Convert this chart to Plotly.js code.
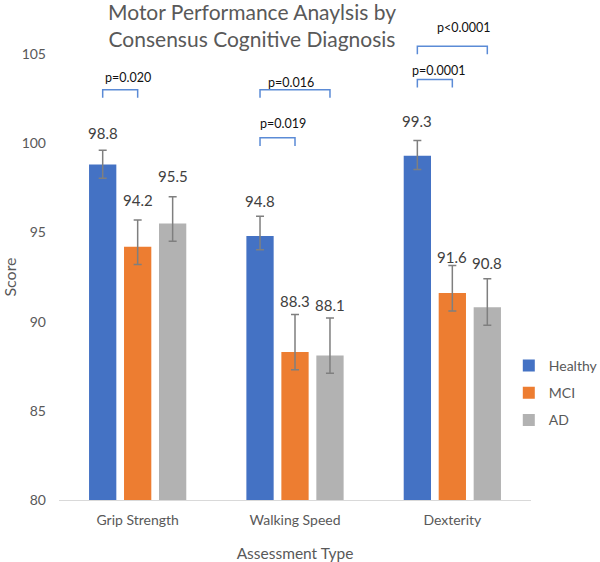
<!DOCTYPE html>
<html>
<head>
<meta charset="utf-8">
<script src="https://cdn.plot.ly/plotly-3.0.1.min.js"></script>
<style>html,body{margin:0;padding:0;background:#fff;}#chart{width:600px;height:562px;}</style>
</head>
<body>
<div id="chart"></div>
<script>
// ---- data ----
const categories = ['Grip Strength', 'Walking Speed', 'Dexterity'];
const seriesNames = ['Healthy', 'MCI', 'AD'];
const healthy = [98.8, 94.8, 99.3];
const mci = [94.2, 88.3, 91.6];
const ad = [95.5, 88.1, 90.8];
const healthyErrPlus = [0.8, 1.1, 0.85];
const healthyErrMinus = [0.77, 0.77, 0.77];
const mciErrPlus = [1.5, 2.1, 1.55];
const mciErrMinus = [1.0, 1.0, 1.0];
const adErrPlus = [1.5, 2.1, 1.6];
const adErrMinus = [1.0, 1.0, 1.0];
// significance comparisons (Healthy vs other group)
const compCategory = [0, 1, 1, 2, 2];
const compFrom = [0, 0, 0, 0, 0];
const compTo = [1, 2, 1, 2, 1];
const compLabels = ['p=0.020', 'p=0.016', 'p=0.019', 'p<0.0001', 'p=0.0001'];
const compLevel = [103.0, 103.0, 100.3, 105.44, 103.57];
const compTextLevel = [103.7, 103.42, 101.09, 106.5, 104.08];
const yTicks = [80, 85, 90, 95, 100, 105];

// ---- style ----
const colors = ['#4472C4', '#ED7D31', '#B2B2B2'];
const FONT = 'Lato, "Open Sans", sans-serif';
const TXT = '#595959';
const bargap = 0.333;
const slot = (1 - bargap) / 3;
const labelShift = [[17, 20, 21], [15, 13, 13], [20, 8, 16]];
const compTextDx = [8, -4, 5, 11, 4];

const values = [healthy, mci, ad];
const errP = [healthyErrPlus, mciErrPlus, adErrPlus];
const errM = [healthyErrMinus, mciErrMinus, adErrMinus];

const traces = values.map((v, i) => ({
  type: 'bar',
  name: seriesNames[i],
  x: categories,
  y: v,
  legendgroup: seriesNames[i],
  marker: {color: colors[i]},
  error_y: {type: 'data', symmetric: false, array: errP[i], arrayminus: errM[i],
            color: '#7F7F7F', thickness: 1.5, width: 4},
  hoverinfo: 'skip'
}));

const annotations = [];
values.forEach((v, si) => {
  v.forEach((val, ci) => {
    annotations.push({
      xref: 'x', yref: 'y',
      x: ci + (si - 1) * slot,
      y: val + errP[si][ci],
      yanchor: 'middle', xanchor: 'center',
      yshift: labelShift[ci][si],
      text: val.toFixed(1), showarrow: false,
      font: {family: FONT, size: 15, color: '#404040'}
    });
  });
});

const xPaper = c => (c + 0.5) / categories.length;
const yPaper = v => (v - yTicks[0]) / (yTicks[yTicks.length - 1] - yTicks[0]);
const shapes = [];
compCategory.forEach((c, k) => {
  const x0 = xPaper(c + (compFrom[k] - 1) * slot);
  const x1 = xPaper(c + (compTo[k] - 1) * slot);
  const yt = yPaper(compLevel[k]);
  const yb = yPaper(compLevel[k] - 0.45);
  shapes.push({type: 'path', xref: 'paper', yref: 'paper',
    path: `M${x0},${yb} L${x0},${yt} L${x1},${yt} L${x1},${yb}`,
    line: {color: '#5B8BD6', width: 1.5}});
  annotations.push({
    xref: 'paper', yref: 'paper',
    x: (x0 + x1) / 2, y: yPaper(compTextLevel[k]), xshift: compTextDx[k],
    xanchor: 'center', yanchor: 'middle',
    text: compLabels[k], showarrow: false,
    font: {family: FONT, size: 12.5, color: '#111111'}
  });
});

const layout = {
  width: 600, height: 562,
  margin: {l: 59, r: 69, t: 54, b: 62, autoexpand: false},
  paper_bgcolor: '#ffffff', plot_bgcolor: '#ffffff',
  font: {family: FONT, color: TXT},
  title: {text: 'Motor Performance Anaylsis by<br>Consensus Cognitive Diagnosis',
          font: {family: FONT, size: 21, color: TXT},
          xref: 'container', x: 0.42, xanchor: 'center',
          yref: 'container', y: 0.965, yanchor: 'middle'},
  barmode: 'group', bargap: bargap, bargroupgap: 0.22,
  xaxis: {type: 'category', range: [-0.5, 2.5], showline: true, linecolor: '#D9D9D9', linewidth: 1,
          ticks: '', showgrid: false, zeroline: false,
          tickfont: {family: FONT, size: 14, color: TXT}, ticklabelstandoff: 7,
          title: {text: 'Assessment Type', font: {family: FONT, size: 15.5, color: TXT}, standoff: 22}},
  yaxis: {range: [80, 105], tickvals: yTicks, ticktext: yTicks.map(String), showgrid: false, zeroline: false, showline: false,
          ticks: '', tickfont: {family: FONT, size: 14, color: TXT}, ticklabelstandoff: 12,
          title: {text: 'Score', font: {family: FONT, size: 16, color: TXT}, standoff: 3}},
  showlegend: true,
  legend: {xref: 'container', x: 0.848, xanchor: 'left', y: 0.24, yanchor: 'middle', tracegroupgap: 6,
           font: {family: FONT, size: 14, color: TXT}, bgcolor: 'rgba(0,0,0,0)'},
  shapes: shapes,
  annotations: annotations
};

Plotly.newPlot('chart', traces, layout, {displayModeBar: false, staticPlot: true});
</script>
</body>
</html>
